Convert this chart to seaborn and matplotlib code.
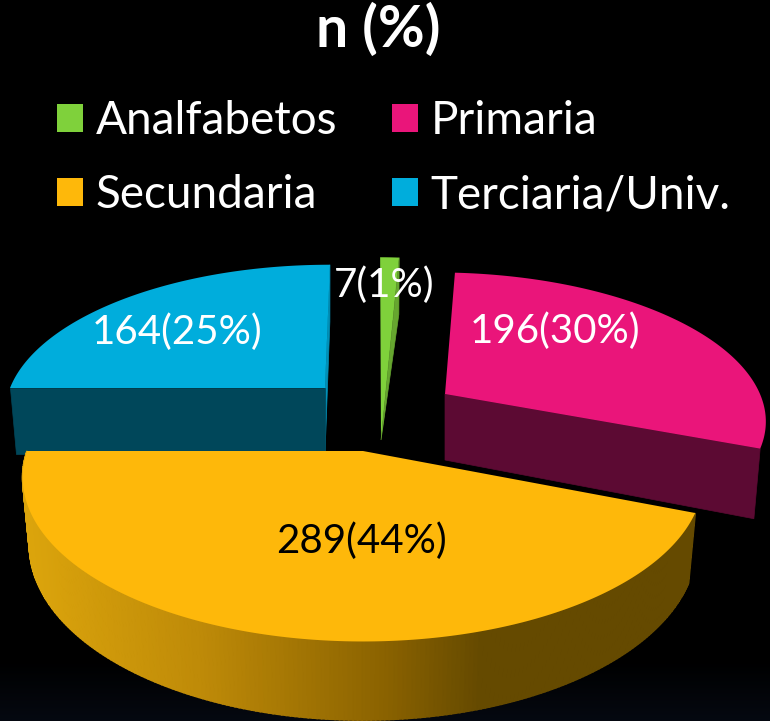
import numpy as np
import matplotlib
matplotlib.use("Agg")
import matplotlib.pyplot as plt
import seaborn as sns
from matplotlib.patches import Polygon

# values
categories = ["Analfabetos", "Primaria", "Secundaria", "Terciaria/Univ."]
counts = [7, 196, 289, 164]
percents = [1, 30, 44, 25]

top_colors = ["#7FD13B", "#EA157A", "#FEB80A", "#00ADDC"]
front_colors = ["#66A62F", "#5C0A33", None, "#00475A"]

# where each exploded slice sits on the page: centre x, centre y, rx, ry, skew
placement = {
    "Analfabetos": (381, 440, 330, 212, -1),
    "Primaria": (445, 394, 315, 141, -9.6),
    "Secundaria": (363, 451, 336, 160, 0),
    "Terciaria/Univ.": (325, 388, 315, 143, 5.8),
}
label_pos = {
    "Analfabetos": (384, 285),
    "Primaria": (555, 331),
    "Secundaria": (361, 541),
    "Terciaria/Univ.": (177, 332),
}
tilt = 0.16
depth = 66
shrink = 0.98

sns.set_theme(style="dark", rc={"figure.facecolor": "black", "axes.facecolor": "black"})
plt.rcParams["font.family"] = ["Lato", "DejaVu Sans"]

fig = plt.figure(figsize=(7.7, 7.21), dpi=100)
ax = fig.add_axes([0, 0, 1, 1])

# pie gives the slice angles, the tilted shapes are built from them
wedges, _ = ax.pie(counts, startangle=90, counterclock=False,
                   colors=sns.color_palette(top_colors))
for w in wedges:
    w.set_visible(False)

ax.set_aspect("auto")
ax.axis("off")

# faint blue at the very bottom of the slide
shade = np.zeros((721, 1, 3))
ramp = np.clip((np.arange(721) - 660) / 61, 0, 1)[:, None]
shade[:, :, 0] = ramp * 5 / 255
shade[:, :, 1] = ramp * 9 / 255
shade[:, :, 2] = ramp * 17 / 255
ax.imshow(shade, extent=(0, 770, 721, 0), aspect="auto", zorder=0)
ax.set_xlim(0, 770)
ax.set_ylim(721, 0)


def project(angle, name):
    cx, cy, rx, ry, sk = placement[name]
    t = np.radians(angle)
    u, v = np.cos(t), np.sin(t)
    s = 1 / (1 + tilt * v)
    return np.column_stack([cx + (rx * u + sk * v) * s, cy - ry * v * s]), s


def lower(pts, s, name):
    cx = placement[name][0]
    return np.column_stack([cx + (pts[:, 0] - cx) * shrink, pts[:, 1] + depth * s])


def cut_face(angle, name, color, z, apex_depth=depth):
    cx, cy = placement[name][:2]
    outer, s = project(np.array([angle]), name)
    bottom = lower(outer, s, name)
    face = [outer[0], (cx, cy), (cx, cy + apex_depth), bottom[0]]
    ax.add_patch(Polygon(face, closed=True, fc=color, ec=color, lw=0.5, zorder=z))


def top_face(w, name, z):
    cx, cy = placement[name][:2]
    arc, _ = project(np.linspace(w.theta1, w.theta2, 200), name)
    ax.add_patch(Polygon(np.vstack([[(cx, cy)], arc]), closed=True,
                         fc=w.get_facecolor(), ec="none", zorder=z))


def yellow_shade(x):
    r = np.interp(x, [30, 200, 385, 480, 700], [219, 190, 138, 101, 101])
    g = np.interp(x, [30, 200, 385, 480, 700], [164, 138, 98, 74, 74])
    b = np.interp(x, [30, 200, 385, 480, 700], [12, 8, 0, 0, 0])
    return (r / 255, g / 255, b / 255)


green, pink, yellow, blue = wedges

# blue slice, back left (clockwise, so theta1 is its 12 o'clock edge)
cut_face(blue.theta1, categories[3], "#0090B8", 2)
cut_face(blue.theta2, categories[3], front_colors[3], 3)
top_face(blue, categories[3], 4)

# pink slice, back right
cut_face(pink.theta1, categories[1], front_colors[1], 2)
top_face(pink, categories[1], 3)

# green sliver
top_face(green, categories[0], 3)
cut_face(green.theta1, categories[0], front_colors[0], 4, apex_depth=0)

# yellow slice, its rim shaded from left to right
angles = np.linspace(yellow.theta1, yellow.theta2, 241)
rim, scale = project(angles, categories[2])
rim_low = lower(rim, scale, categories[2])
for i in range(len(angles) - 1):
    quad = [rim[i], rim[i + 1], rim_low[i + 1], rim_low[i]]
    col = yellow_shade(rim[i, 0])
    ax.add_patch(Polygon(quad, closed=True, fc=col, ec=col, lw=1.2, zorder=5))
top_face(yellow, categories[2], 6)

# slice labels
for name, n, p, col in zip(categories, counts, percents,
                           ["white", "white", "black", "white"]):
    x, y = label_pos[name]
    ax.text(x, y, f"{n}({p}%)", color=col, fontsize=29, ha="center", va="center", zorder=10)

ax.text(378, 30, "n (%)", color="white", fontsize=41, fontweight="bold",
        ha="center", va="center", zorder=10)

# legend fills by column, the reference reads across the rows
order = [0, 2, 1, 3]
leg = ax.legend([wedges[i] for i in order], [categories[i] for i in order], ncol=2,
                loc="upper left", bbox_to_anchor=(0.074, 0.861),
                frameon=False, fontsize=33, labelcolor="white", handlelength=0.57,
                handleheight=0.57, handletextpad=0.28, columnspacing=1.18, labelspacing=0.7,
                borderpad=0, borderaxespad=0)
for h in leg.legend_handles:
    h.set_visible(True)
    h.set_edgecolor("none")

fig.savefig("out.png", dpi=100, facecolor="black")
